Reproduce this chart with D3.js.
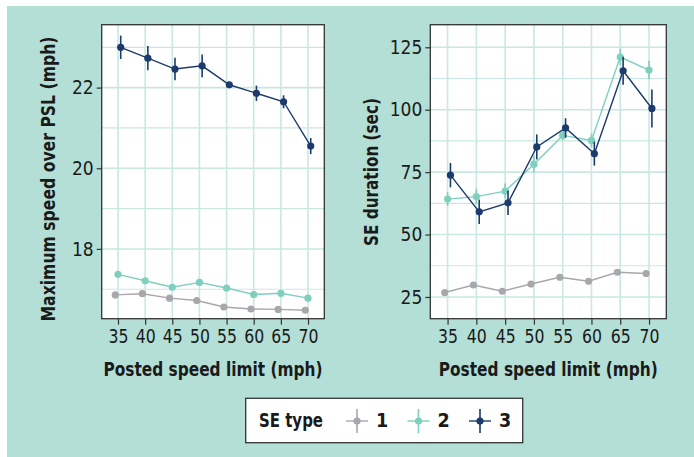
<!DOCTYPE html>
<html>
<head>
<meta charset="utf-8">
<script src="https://cdn.jsdelivr.net/npm/d3@7"></script>
<style>
body{margin:0;background:#fff;}
svg text{font-family:"Liberation Sans Narrow","DejaVu Sans Condensed","Roboto Condensed",sans-serif;fill:#1a1a1a;}
.ttl{font-weight:bold;}
</style>
</head>
<body>
<div class="visHolder"></div>
<script>
// data
const speeds=[35,40,45,50,55,60,65,70];
const seTypes=["1","2","3"];
const maxSpeed1=[16.86,16.89,16.78,16.72,16.56,16.51,16.50,16.48];
const maxSpeed1Err=[0.03,0.03,0.03,0.03,0.03,0.03,0.03,0.03];
const maxSpeed2=[17.37,17.21,17.05,17.17,17.03,16.87,16.90,16.78];
const maxSpeed2Err=[0.08,0.04,0.04,0.04,0.04,0.04,0.04,0.04];
const maxSpeed3=[23.0,22.73,22.46,22.54,22.07,21.86,21.65,20.55];
const maxSpeed3Err=[0.29,0.30,0.28,0.28,0.05,0.19,0.16,0.20];
const dur1=[26.8,29.8,27.3,30.2,32.9,31.3,34.9,34.4];
const dur1Err=[0.6,0.6,0.6,0.6,0.6,0.6,0.6,0.6];
const dur2=[64.2,65.2,67.4,78.2,89.7,87.7,121.1,115.9];
const dur2Err=[2.8,3.0,3.0,3.3,2.0,2.7,3.3,3.7];
const dur3=[73.8,59.1,62.7,85.1,92.7,82.4,115.6,100.5];
const dur3Err=[4.9,4.9,4.9,5.0,3.9,4.8,5.6,7.6];
const leftTicks=[18,20,22],leftMinor=[17,19,21,23];
const rightTicks=[25,50,75,100,125],rightMinor=[37.5,62.5,87.5,112.5];

const colors={"1":"#a8a8ac","2":"#7ecfbe","3":"#1c3a6b"};
const dodge={"1":-0.5,"2":0,"3":0.5};
const W=694,H=457;

const svg=d3.select(".visHolder").append("svg").attr("width",W).attr("height",H);
svg.append("rect").attr("x",7).attr("y",6).attr("width",W-7).attr("height",H-6).attr("fill","#b4dfd6");

function panel(opt){
  const g=svg.append("g");
  const x=d3.scaleLinear().domain([32,73]).range([opt.x0,opt.x1]);
  const y=d3.scaleLinear().domain(opt.ydom).range([opt.y1,opt.y0]);
  g.append("rect").attr("x",opt.x0).attr("y",opt.y0).attr("width",opt.x1-opt.x0).attr("height",opt.y1-opt.y0).attr("fill","#fff");
  // grid
  g.selectAll(".hmin").data(opt.minor).enter().append("line")
    .attr("x1",opt.x0).attr("x2",opt.x1).attr("y1",d=>y(d)).attr("y2",d=>y(d))
    .attr("stroke","#c9e8e1").attr("stroke-width",1.2);
  g.selectAll(".hmaj").data(opt.ticks).enter().append("line")
    .attr("x1",opt.x0).attr("x2",opt.x1).attr("y1",d=>y(d)).attr("y2",d=>y(d))
    .attr("stroke","#c9e8e1").attr("stroke-width",1.6);
  g.selectAll(".vmaj").data(speeds).enter().append("line")
    .attr("y1",opt.y0).attr("y2",opt.y1).attr("x1",d=>x(d)).attr("x2",d=>x(d))
    .attr("stroke","#c9e8e1").attr("stroke-width",1.6);
  // series
  opt.series.forEach(s=>{
    const c=colors[s.key],dx=dodge[s.key];
    const pts=speeds.map((v,i)=>({x:x(v+dx),y:y(s.vals[i]),lo:y(s.vals[i]-s.err[i]),hi:y(s.vals[i]+s.err[i])}));
    g.append("path").datum(pts).attr("fill","none").attr("stroke",c).attr("stroke-width",1.4)
      .attr("d",d3.line().x(d=>d.x).y(d=>d.y));
    g.selectAll(null).data(pts).enter().append("line")
      .attr("x1",d=>d.x).attr("x2",d=>d.x).attr("y1",d=>d.lo).attr("y2",d=>d.hi)
      .attr("stroke",c).attr("stroke-width",1.6);
    g.selectAll(null).data(pts).enter().append("circle")
      .attr("cx",d=>d.x).attr("cy",d=>d.y).attr("r",3.6).attr("fill",c);
  });
  g.append("rect").attr("x",opt.x0).attr("y",opt.y0).attr("width",opt.x1-opt.x0).attr("height",opt.y1-opt.y0)
    .attr("fill","none").attr("stroke","#333").attr("stroke-width",1.3);
  // axes
  const xa=g.append("g").attr("transform","translate(0,"+opt.y1+")")
    .call(d3.axisBottom(x).tickValues(speeds).tickSize(6).tickPadding(5));
  const ya=g.append("g").attr("transform","translate("+opt.x0+",0)")
    .call(d3.axisLeft(y).tickValues(opt.ticks).tickSize(5).tickPadding(3));
  [xa,ya].forEach(a=>{
    a.select(".domain").remove();
    a.selectAll("line").attr("stroke","#333").attr("stroke-width",1.2);
    a.selectAll("text").style("font-size","19px").attr("fill","#1a1a1a");
  });
  xa.selectAll("text").attr("textLength",20).attr("lengthAdjust","spacingAndGlyphs");
  g.append("text").attr("class","ttl").attr("x",(opt.x0+opt.x1)/2).attr("y",376)
    .attr("text-anchor","middle").style("font-size","19.5px")
    .attr("textLength",219).attr("lengthAdjust","spacingAndGlyphs").text("Posted speed limit (mph)");
  g.append("text").attr("class","ttl").attr("transform","translate("+opt.ytx+","+opt.yty+") rotate(-90)")
    .attr("text-anchor","middle").style("font-size","19.5px")
    .attr("textLength",opt.ylen).attr("lengthAdjust","spacingAndGlyphs").text(opt.ytitle);
}

panel({x0:101.7,x1:324.3,y0:24.7,y1:318.7,ydom:[16.27,23.56],ticks:leftTicks,minor:leftMinor,
  ytitle:"Maximum speed over PSL (mph)",ytx:55,yty:179,ylen:285,
  series:[{key:"1",vals:maxSpeed1,err:maxSpeed1Err},{key:"2",vals:maxSpeed2,err:maxSpeed2Err},{key:"3",vals:maxSpeed3,err:maxSpeed3Err}]});
panel({x0:430.3,x1:666.3,y0:24.7,y1:318.7,ydom:[16.3,134.05],ticks:rightTicks,minor:rightMinor,
  ytitle:"SE duration (sec)",ytx:378,yty:172,ylen:148,
  series:[{key:"1",vals:dur1,err:dur1Err},{key:"2",vals:dur2,err:dur2Err},{key:"3",vals:dur3,err:dur3Err}]});

// legend
const lg=svg.append("g");
lg.append("rect").attr("x",245.7).attr("y",398.3).attr("width",277).attr("height",44.4)
  .attr("fill","#fff").attr("stroke","#333").attr("stroke-width",1.3);
lg.append("text").attr("class","ttl").attr("x",259).attr("y",427).style("font-size","19.5px")
  .attr("textLength",64).attr("lengthAdjust","spacingAndGlyphs").text("SE type");
const keyX=d3.scalePoint().domain(seTypes).range([357,480]);
seTypes.forEach(k=>{
  const cx=keyX(k),c=colors[k];
  lg.append("line").attr("x1",cx-11).attr("x2",cx+11).attr("y1",421).attr("y2",421).attr("stroke",c).attr("stroke-width",1.4);
  lg.append("line").attr("x1",cx).attr("x2",cx).attr("y1",409).attr("y2",433).attr("stroke",c).attr("stroke-width",1.6);
  lg.append("circle").attr("cx",cx).attr("cy",421).attr("r",3.6).attr("fill",c);
  lg.append("text").attr("class","ttl").attr("x",cx+19).attr("y",427).style("font-size","19.5px").text(k);
});
</script>
</body>
</html>
